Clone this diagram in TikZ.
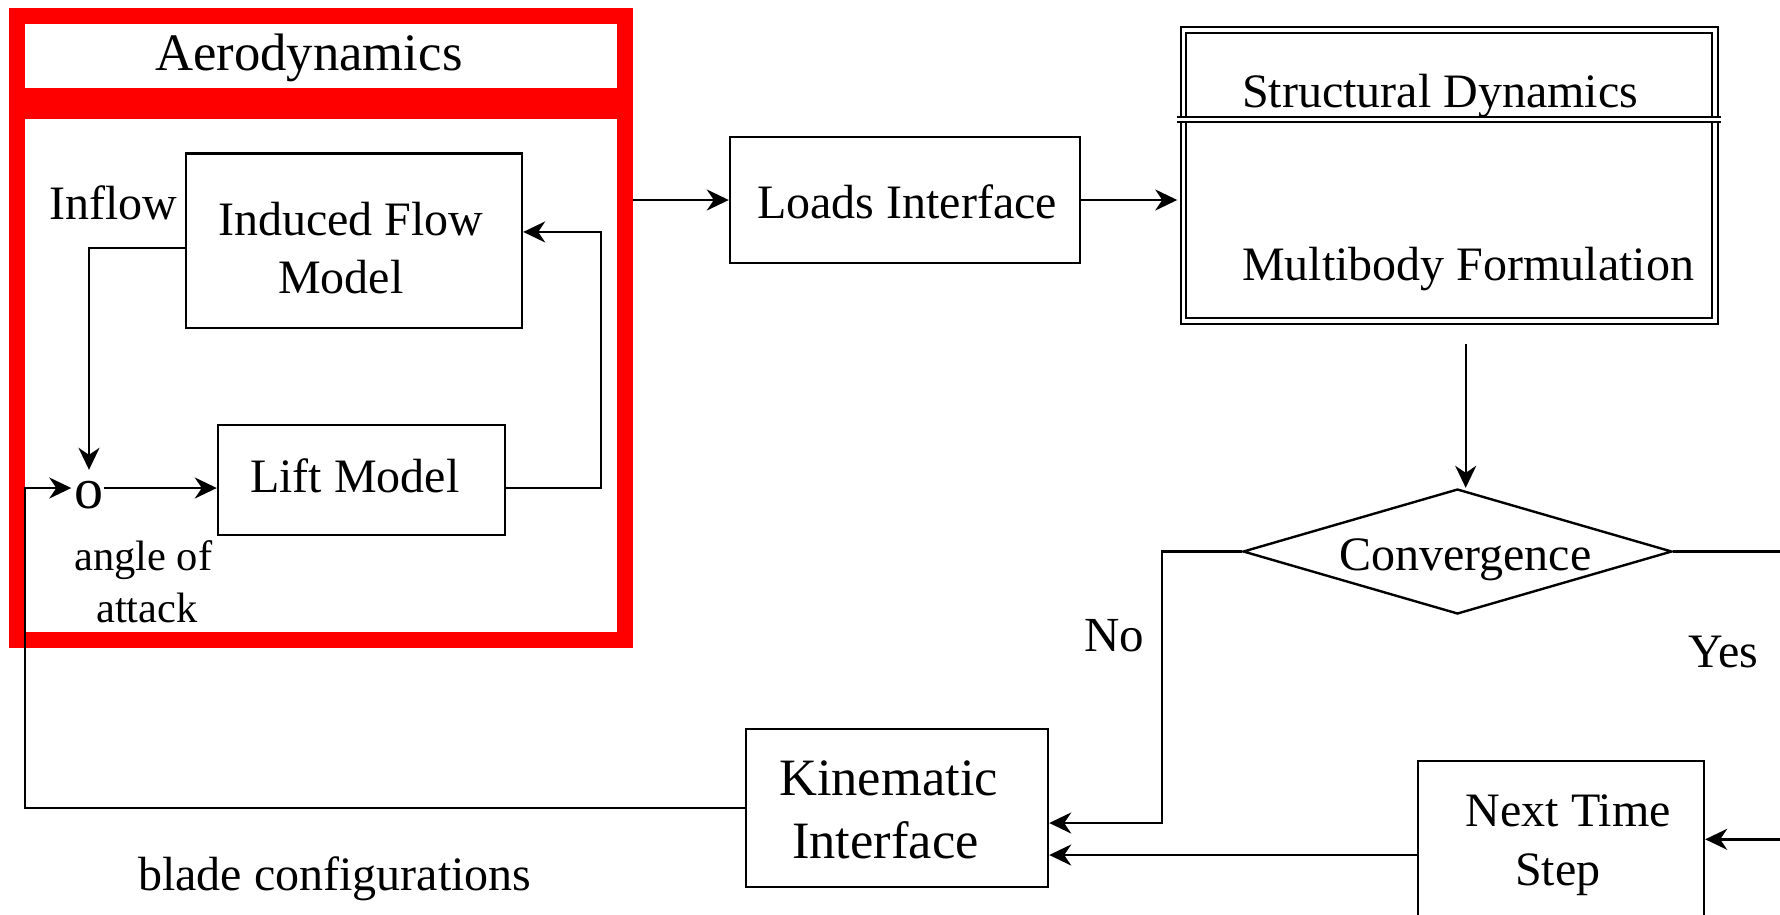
\documentclass[tikz,border=0pt]{standalone}
\usepackage{fontspec}
\setmainfont{Liberation Serif}
\usetikzlibrary{arrows.meta,shapes.geometric,calc}
\newcommand\fsz[1]{\fontsize{#1}{#1}\selectfont}
\tikzset{
  box/.style={draw, rectangle, line width=2.4pt, inner sep=0pt},
  frame/.style={draw=red, rectangle, line width=16pt, inner sep=0pt},
  dblbox/.style={draw, rectangle, double, line width=1.9pt, double distance=3.4pt, inner sep=0pt},
  lbl/.style={anchor=base west, inner sep=0pt, font=\fsz{48pt}},
  conn/.style={line width=2.4pt},
  arr/.style={conn, -{Stealth[length=22pt,width=21pt,inset=7pt]}},
}
\begin{document}
\begin{tikzpicture}[x=1pt,y=-1pt]
\useasboundingbox (0,0) rectangle (1780,914);
\clip (0,0) rectangle (1780,914);

% aerodynamics module: red title bar and body
\node[frame, minimum width=608pt, minimum height=80.8pt] (aerotitle) at (321,55.9) {};
\node[frame, minimum width=608pt, minimum height=528.7pt] (aerobody) at (321,375.65) {};
\node[lbl, font=\fsz{52.7pt}] (aerotxt) at (155,70) {Aerodynamics};

% blocks inside the aerodynamics module
\node[box, minimum width=336.3pt, minimum height=174.7pt] (ind) at (353.85,240.65) {};
\node[lbl] (indtxt1) at (218,235) {Induced Flow};
\node[lbl] (indtxt2) at (278,293) {Model};
\node[box, minimum width=287pt, minimum height=110pt] (lift) at (361.5,480) {};
\node[lbl] (lifttxt) at (250,492) {Lift Model};
\node[inner sep=0pt, text height=40pt, text depth=0pt, font=\fsz{58pt}] (sum) at (89,488) {o};
\node[lbl] (inflow) at (49,219) {Inflow};
\node[lbl, font=\fsz{42.5pt}] (aoa1) at (74,570) {angle of};
\node[lbl, font=\fsz{42.5pt}] (aoa2) at (96,622) {attack};

% loads interface and structural dynamics
\node[box, minimum width=350pt, minimum height=126pt] (loads) at (905,200) {};
\node[lbl] (loadstxt) at (757,218) {Loads Interface};
\node[dblbox, minimum width=531.3pt, minimum height=291pt] (struct) at (1449.35,175.5) {};
\draw[double, line width=1.9pt, double distance=3.4pt] (1177,119.35) -- (1721,119.35);
\node[lbl] (structtxt1) at (1242,107.3) {Structural Dynamics};
\node[lbl] (structtxt2) at (1242,280) {Multibody Formulation};

% convergence check
\node[draw, diamond, line width=2.4pt, inner sep=0pt, minimum width=429pt, minimum height=125pt] (conv) at (1457.5,551.5) {};
\node[lbl] (convtxt) at (1339,570.7) {Convergence};
\node[lbl, font=\fsz{49pt}] (notxt) at (1084,651.7) {No};
\node[lbl] (yestxt) at (1688,667) {Yes};

% kinematic interface and time stepping
\node[box, minimum width=302pt, minimum height=158pt] (kin) at (897,808) {};
\node[lbl, font=\fsz{52.5pt}] (kintxt1) at (779,795.7) {Kinematic};
\node[lbl, font=\fsz{52.5pt}] (kintxt2) at (792,858) {Interface};
\node[box, minimum width=286pt, minimum height=199pt] (nts) at (1561,860.5) {};
\node[lbl] (ntstxt1) at (1465.7,826.7) {Next Time};
\node[lbl] (ntstxt2) at (1515,885) {Step};
\node[lbl] (bladetxt) at (138,890) {blade configurations};

% helper points for routing
\coordinate (feedx) at (25,0);
\coordinate (nox) at (1161.7,0);
\coordinate (yesx) at (1800,0);
\coordinate (kinno) at ($(kin.east)+(0,15)$);
\coordinate (kinnt) at ($(kin.east)+(0,47)$);
\coordinate (ntsin) at ($(nts.east)+(0,-21.2)$);
\coordinate (dtop) at ($(struct.south)+(16.35,22)$);

% connectors inside the aerodynamics module
\draw[arr] ($(ind.west)+(0,7.35)$) -| ($(sum.north)+(0,2)$);
\draw[arr] (sum.east) -- (sum.east -| lift.west);
\draw[arr] (lift.east |- sum.east) -- ++(95,0) |- ($(ind.east)+(0,-8.7)$);
\draw[arr] (kin.west) -| (feedx |- sum.west) -- ($(sum.west)+(-3,0)$);

% main loop
\draw[arr] (aerobody.east |- loads.west) -- (loads.west);
\draw[arr] (loads.east) -- ($(struct.west |- loads.east)+(-5.5,0)$);
\draw[arr] (dtop) -- (dtop |- conv.north);
\draw[arr] (conv.west) -| (nox |- kinno) -- (kinno);
\draw[arr] (conv.east) -| (yesx |- ntsin) -- (ntsin);
\draw[arr] (nts.west |- kinnt) -- (kinnt);
\end{tikzpicture}
\end{document}
